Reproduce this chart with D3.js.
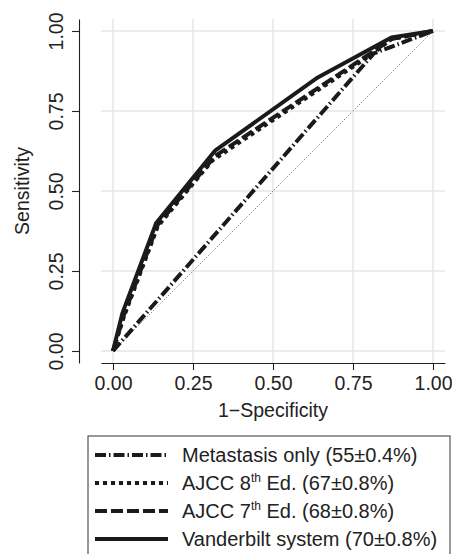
<!DOCTYPE html>
<html>
<head>
<meta charset="utf-8">
<script src="https://cdn.jsdelivr.net/npm/d3@7"></script>
<style>
body { margin: 0; background: #fff; }
svg { display: block; font-family: "Liberation Sans", Arial, sans-serif; }
</style>
</head>
<body>
<svg id="chart"></svg>
<script>
// ROC curves, values
const ticks = [0, 0.25, 0.5, 0.75, 1];

const metaFpr = [0, 0.815, 1];
const metaTpr = [0, 0.93, 1];

const ajcc8Fpr = [0, 0.035, 0.14, 0.31, 0.82, 0.87, 1];
const ajcc8Tpr = [0, 0.11, 0.39, 0.595, 0.935, 0.975, 1];

const ajcc7Fpr = [0, 0.035, 0.14, 0.32, 0.82, 0.87, 1];
const ajcc7Tpr = [0, 0.115, 0.395, 0.61, 0.94, 0.975, 1];

const vandFpr = [0, 0.03, 0.135, 0.32, 0.64, 0.87, 1];
const vandTpr = [0, 0.12, 0.40, 0.627, 0.855, 0.98, 1];

const legendNames = ["Metastasis only (55±0.4%)", "AJCC 8|th| Ed. (67±0.8%)", "AJCC 7|th| Ed. (68±0.8%)", "Vanderbilt system (70±0.8%)"];

const width = 452;
const height = 554;
const svg = d3.select('#chart')
.attr('width', width)
.attr('height', height);

// panel
const x = d3.scaleLinear()
.domain([-0.0375, 1.0375])
.range([101, 445]);

const y = d3.scaleLinear()
.domain([-0.0375, 1.0375])
.range([363, 19]);

// grid
svg.append('g')
.selectAll('line')
.data(ticks)
.enter()
.append('line')
.attr('x1', d => x(d)).attr('x2', d => x(d))
.attr('y1', y.range()[1]).attr('y2', y.range()[0])
.attr('stroke', '#e6e6e6').attr('stroke-width', 1.5);

svg.append('g')
.selectAll('line')
.data(ticks)
.enter()
.append('line')
.attr('y1', d => y(d)).attr('y2', d => y(d))
.attr('x1', x.range()[0]).attr('x2', x.range()[1])
.attr('stroke', '#e6e6e6').attr('stroke-width', 1.5);

// axes
const xAxis = svg.append('g')
.attr('transform', 'translate(0,363)')
.call(d3.axisBottom(x).tickValues(ticks).tickFormat(d3.format('.2f')).tickSize(7).tickSizeOuter(0).tickPadding(6));

const yAxis = svg.append('g')
.attr('transform', 'translate(79,0)')
.call(d3.axisLeft(y).tickValues(ticks).tickFormat(d3.format('.2f')).tickSize(7).tickSizeOuter(0));

[xAxis, yAxis].forEach(function(a) {
a.selectAll('path, line').attr('stroke', '#222').attr('stroke-width', 1.1);
a.selectAll('text').attr('fill', '#222').attr('font-size', 19.5).attr('font-family', '"Liberation Sans", Arial, sans-serif');
});

yAxis.selectAll('text')
.attr('x', null).attr('dy', null)
.attr('text-anchor', 'middle')
.attr('transform', 'translate(-16,0) rotate(-90)');

// axis titles
svg.append('text')
.attr('x', (x.range()[0] + x.range()[1]) / 2)
.attr('y', 417)
.attr('text-anchor', 'middle')
.attr('font-size', 19.5)
.attr('fill', '#222')
.text('1\u2212Specificity');

svg.append('text')
.attr('transform', 'translate(29,' + ((y.range()[0] + y.range()[1]) / 2) + ') rotate(-90)')
.attr('text-anchor', 'middle')
.attr('font-size', 19.5)
.attr('fill', '#222')
.text('Sensitivity');

// chance line
svg.append('line')
.attr('x1', x(0)).attr('y1', y(0))
.attr('x2', x(1)).attr('y2', y(1))
.attr('stroke', '#666').attr('stroke-width', 1).attr('stroke-dasharray', '1,2');

const styles = [
{ dash: '11,3,1.5,3' },
{ dash: '4,4' },
{ dash: '12,4' },
{ dash: null }
];

const curves = [
d3.zip(metaFpr, metaTpr),
d3.zip(ajcc8Fpr, ajcc8Tpr),
d3.zip(ajcc7Fpr, ajcc7Tpr),
d3.zip(vandFpr, vandTpr)
];

const line = d3.line()
.x(d => x(d[0]))
.y(d => y(d[1]));

curves.forEach(function(c, i) {
svg.append('path')
.attr('d', line(c))
.attr('fill', 'none')
.attr('stroke', '#1a1a1a')
.attr('stroke-width', 4)
.attr('stroke-linejoin', 'round')
.attr('stroke-dasharray', styles[i].dash);
});

// legend
const lg = svg.append('g');
lg.append('rect')
.attr('x', 88).attr('y', 436)
.attr('width', 362).attr('height', 130)
.attr('fill', '#fff')
.attr('stroke', '#333').attr('stroke-width', 1);

legendNames.forEach(function(name, i) {
const ry = 455 + i * 28;
lg.append('line')
.attr('x1', 95).attr('x2', 168)
.attr('y1', ry).attr('y2', ry)
.attr('stroke', '#1a1a1a').attr('stroke-width', 4)
.attr('stroke-dasharray', styles[i].dash);
const t = lg.append('text')
.attr('x', 182).attr('y', ry + 7.3)
.attr('font-size', 20)
.attr('fill', '#222');
const parts = name.split('|');
t.append('tspan').text(parts[0]);
if (parts.length > 1) {
t.append('tspan').attr('font-size', 12).attr('dy', -8.5).text(parts[1]);
t.append('tspan').attr('dy', 8.5).text(parts[2]);
}
});
</script>
</body>
</html>
